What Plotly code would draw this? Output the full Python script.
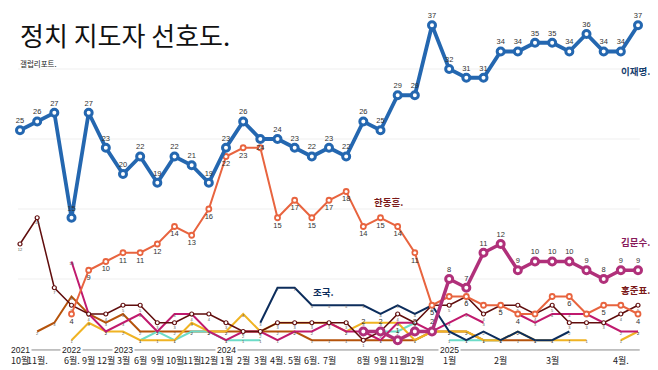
import plotly.graph_objects as go

# ---------------- data ----------------
idx = list(range(37))

lee = [25, 26, 27, 15, 27, 23, 20, 22, 19, 22, 21, 19, 23, 26, 24, 24, 23, 22, 23, 22,
       26, 25, 29, 29, 37, 32, 31, 31, 34, 34, 35, 35, 34, 36, 34, 34, 37]
han = [None, None, None, 4, 9, 10, 11, 11, 12, 14, 13, 16, 22, 23, 23, 15, 17, 15, 17, 18,
       14, 15, 14, 11, 5, 6, 6, 5, 5, 4, 4, 6, 6, 4, 5, 5, 4]
kim = [None] * 20 + [2, 2, 1, 2, 2, 8, 7, 11, 12, 9, 10, 10, 10, 9, 8, 9, 9]
hong = [12, 15, 7, 5, 4, 4, 5, 5, 3, 3, 4, 4, 3, 2, 2, 3, 3, 3, 3, 3,
        1, 2, 4, 3, 5, 5, 6, 4, 5, 5, 4, 5, 3, 3, 3, 4, 5]
cho = [None] * 14 + [3, 7, 7, 5, 5, 5, 5, 4, 5, 4, 5, 2, 1, 2, 1, 2, 1, 1, 2] + [None] * 4
magenta = [None, None, None, 10, 4, 2, 3, 4, 2, 4, 4, 2, 1, 2, 2, 1, 2, 2, 3, 2, 2,
           1, 3, 3, 2, 3, 4, 3, None, 4, 3, 4, 4, 4, 3, 2, 2]
yellow = [None, None, None, 1, 3, 2, 2, 1, 1, 1, 3, 2, 2, 4, 2, 3, 3, 3, 3, 2, 3,
          3, 3, 1, 2, 2, 2, 1, 1, 2, 1, 1, 1, 1, None, 1, 2]
brown = [None, 2, 3, 6, 4, 3, 4, 2, 2, 2, 2, 2, 2, 2, 2, 2, 2, 1, 1, 1, 1,
         1, 1, 1, 2, 2, 2, 1, 1, 1, 1] + [None] * 6
teal = [None] * 7 + [1, 2, 1, 2, 2, 1, 1, 1] + [None] * 6 + [2, 2, 3] + [None] + [1, 1, 1, 1] + [None] * 8

# han labels hidden in the original where they collide
han_hidden = [25, 27, 30, 31, 33, 35]

month_idx = [0, 1, 3, 4, 5, 6, 7, 8, 9, 10, 11, 12, 13, 14, 15, 16, 17, 18, 20, 21, 22, 23, 25, 28, 31, 35]
month_lbl = ["10월", "11월.", "6월.", "9월", "12월", "3월", "6월", "9월", "10월", "11월", "12월",
             "1월", "2월", "3월", "4월.", "5월", "6월.", "7월", "8월", "9월", "11월", "12월",
             "1월", "2월", "3월", "4월."]
year_idx = [0, 3, 6, 12, 25]
year_lbl = ["2021", "2022", "2023", "2024", "2025"]

# ---------------- style ----------------
NUMF = "Liberation Sans, Arial, sans-serif"
KRF = "Noto Sans CJK KR, Noto Sans, sans-serif"

C_LEE = "#2467b0"
C_KIM = "#b0307a"
C_HAN = "#e8643f"
C_HONG = "#600d0d"
C_CHO = "#0c2d5c"
C_MAG = "#c01a6e"
C_YEL = "#f0b323"
C_BRN = "#b5530b"
C_TEAL = "#6ddcc8"

# page has an 8px body margin: figure is 650x362, placed at (8, 8)
W, H = 650, 362
fig = go.Figure()


def tiny_text(vals):
    return ["" if v is None else str(v) for v in vals]


def thin(vals, color, width=2.0):
    fig.add_trace(go.Scatter(
        x=idx, y=vals, mode="lines+text", line=dict(color=color, width=width),
        text=tiny_text(vals), textposition="bottom center",
        textfont=dict(size=4, color="#555", family=NUMF),
        connectgaps=False, hoverinfo="skip"))


thin(brown, C_BRN)
thin(teal, C_TEAL)
thin(yellow, C_YEL)
thin(magenta, C_MAG)
thin(cho, C_CHO)

# 홍준표
fig.add_trace(go.Scatter(
    x=idx, y=hong, mode="lines+markers+text",
    line=dict(color=C_HONG, width=1.5),
    marker=dict(symbol="circle", size=4, color="white", line=dict(color=C_HONG, width=1.2)),
    text=tiny_text(hong), textposition="bottom center",
    textfont=dict(size=4, color="#555", family=NUMF), hoverinfo="skip"))

# 한동훈
han_text = []
han_pos = []
for i, v in enumerate(han):
    han_text.append("" if (v is None or i in han_hidden) else str(v))
    han_pos.append("top center" if i == 14 else "bottom center")
fig.add_trace(go.Scatter(
    x=idx, y=han, mode="lines+markers+text",
    line=dict(color=C_HAN, width=2),
    marker=dict(symbol="circle", size=5, color="white", line=dict(color=C_HAN, width=1.8)),
    text=han_text, textposition=han_pos,
    textfont=dict(size=7.5, color="#333", family=NUMF), hoverinfo="skip"))

# 김문수
fig.add_trace(go.Scatter(
    x=idx, y=kim, mode="lines+markers+text",
    line=dict(color=C_KIM, width=3.5),
    marker=dict(symbol="circle", size=7, color="white", line=dict(color=C_KIM, width=3)),
    text=tiny_text(kim), textposition="top center",
    textfont=dict(size=7.5, color="#333", family=NUMF), hoverinfo="skip"))

# 이재명
lee_pos = ["bottom center" if i == 14 else "top center" for i in idx]
fig.add_trace(go.Scatter(
    x=idx, y=lee, mode="lines+markers+text",
    line=dict(color=C_LEE, width=3.8),
    marker=dict(symbol="circle", size=7, color="white", line=dict(color=C_LEE, width=3)),
    text=[str(v) for v in lee], textposition=lee_pos,
    textfont=dict(size=7.5, color="#333", family=NUMF), hoverinfo="skip"))

# gridlines
shapes = []
for g in [8, 16, 24, 32]:
    shapes.append(dict(type="line", xref="x", yref="y", x0=-0.12, x1=36.1, y0=g, y1=g,
                       line=dict(color="#efefef", width=1), layer="below"))
# year axis line
shapes.append(dict(type="line", xref="x", yref="y", x0=-0.3, x1=36.1, y0=-0.11, y1=-0.11,
                   line=dict(color="#8a8a8a", width=1), layer="below"))

ann = []
for i, t in zip(year_idx, year_lbl):
    ann.append(dict(x=i, y=-0.11, xref="x", yref="y", text=t, showarrow=False,
                    font=dict(size=8.5, color="#222", family=NUMF), bgcolor="white",
                    borderpad=1, xanchor="center", yanchor="middle"))
for i, t in zip(month_idx, month_lbl):
    ann.append(dict(x=i, y=-1.26, xref="x", yref="y", text=t, showarrow=False,
                    font=dict(size=9, color="#222", family=KRF),
                    xanchor="center", yanchor="middle"))

# series names
ann += [
    dict(x=36.81, y=31.77, xref="x", yref="y", text="<b>이재명.</b>", showarrow=False,
         font=dict(size=9.5, color="#17406e", family=KRF), xanchor="right", yanchor="middle"),
    dict(x=36.81, y=12.23, xref="x", yref="y", text="<b>김문수.</b>", showarrow=False,
         font=dict(size=9.5, color="#87195a", family=KRF), xanchor="right", yanchor="middle"),
    dict(x=36.81, y=6.74, xref="x", yref="y", text="<b>홍준표.</b>", showarrow=False,
         font=dict(size=9.5, color="#7a1818", family=KRF), xanchor="right", yanchor="middle"),
    dict(x=21.44, y=16.8, xref="x", yref="y", text="<b>한동훈.</b>", showarrow=False,
         font=dict(size=9.5, color="#7a1818", family=KRF), xanchor="center", yanchor="middle"),
    dict(x=17.7, y=6.5, xref="x", yref="y", text="<b>조국.</b>", showarrow=False,
         font=dict(size=9.5, color="#0c2d5c", family=KRF), xanchor="center", yanchor="middle"),
]

# title and subtitle (page px -> figure px: minus 8)
ann += [
    dict(x=10 / W, y=1 - 26 / H, xref="paper", yref="paper", text="정치 지도자 선호도.",
         showarrow=False, font=dict(size=26, color="#111", family=KRF),
         xanchor="left", yanchor="middle"),
    dict(x=10 / W, y=1 - 55 / H, xref="paper", yref="paper", text="갤럽리포트.",
         showarrow=False, font=dict(size=7.5, color="#222", family=KRF),
         xanchor="left", yanchor="middle"),
]

fig.update_layout(
    width=W, height=H, margin=dict(l=0, r=0, t=0, b=0),
    paper_bgcolor="white", plot_bgcolor="white", showlegend=False,
    xaxis=dict(range=[-0.699, 37.165], visible=False, fixedrange=True),
    yaxis=dict(range=[-2.4, 38.971], visible=False, fixedrange=True),
    shapes=shapes, annotations=ann,
)

fig.write_html("out.html", config={"displayModeBar": False})
